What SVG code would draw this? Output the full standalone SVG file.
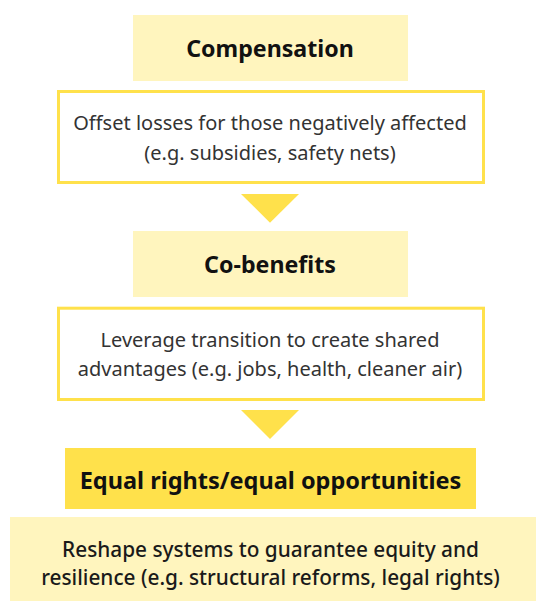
<svg xmlns="http://www.w3.org/2000/svg" width="536" height="601" viewBox="0 0 536 601">
<style>
.title{font-family:"Noto Sans","Open Sans",sans-serif;font-weight:700;fill:#111;text-anchor:middle}
.desc{font-family:"Noto Sans","Open Sans",sans-serif;font-weight:400;fill:#333;text-anchor:middle;font-size:20px}
.desc2{font-family:"Noto Sans","Open Sans",sans-serif;font-weight:500;fill:#1a1a1a;text-anchor:middle;font-size:20.8px}
.light{fill:#FFF5BE}
.strong{fill:#FFE14B}
.outline{fill:#fff;stroke:#FFE14B;stroke-width:3}
.arrow{fill:#FFE14B}
</style>
<rect width="536" height="601" fill="#fff"/>
<g id="compensation">
<rect class="light" x="133" y="15" width="275" height="66"/>
<text class="title" x="270" y="57" font-size="23.2">Compensation</text>
</g>
<g id="compensation-desc">
<rect class="outline" x="58.5" y="91.5" width="425" height="91"/>
<text class="desc" x="270" y="130">Offset losses for those negatively affected</text>
<text class="desc" x="270" y="160">(e.g. subsidies, safety nets)</text>
</g>
<g id="cobenefits">
<rect class="light" x="133" y="231" width="275" height="66"/>
<text class="title" x="270" y="273" font-size="23.2">Co-benefits</text>
</g>
<g id="cobenefits-desc">
<rect class="outline" x="58.5" y="308.2" width="425" height="91.3"/>
<text class="desc" x="270" y="347">Leverage transition to create shared</text>
<text class="desc" x="270" y="376">advantages (e.g. jobs, health, cleaner air)</text>
</g>
<g id="equal-rights">
<rect class="strong" x="65" y="448" width="411" height="61"/>
<text class="title" x="270.5" y="489" font-size="23.5">Equal rights/equal opportunities</text>
</g>
<g id="equal-rights-desc">
<rect class="light" x="10" y="517" width="526" height="84"/>
<text class="desc2" x="270.5" y="557">Reshape systems to guarantee equity and</text>
<text class="desc2" x="270.5" y="585">resilience (e.g. structural reforms, legal rights)</text>
</g>
<g id="connectors">
<polygon class="arrow" points="241,194 299,194 270,222.7"/>
<polygon class="arrow" points="241,410 299,410 270,439"/>
</g>
</svg>
